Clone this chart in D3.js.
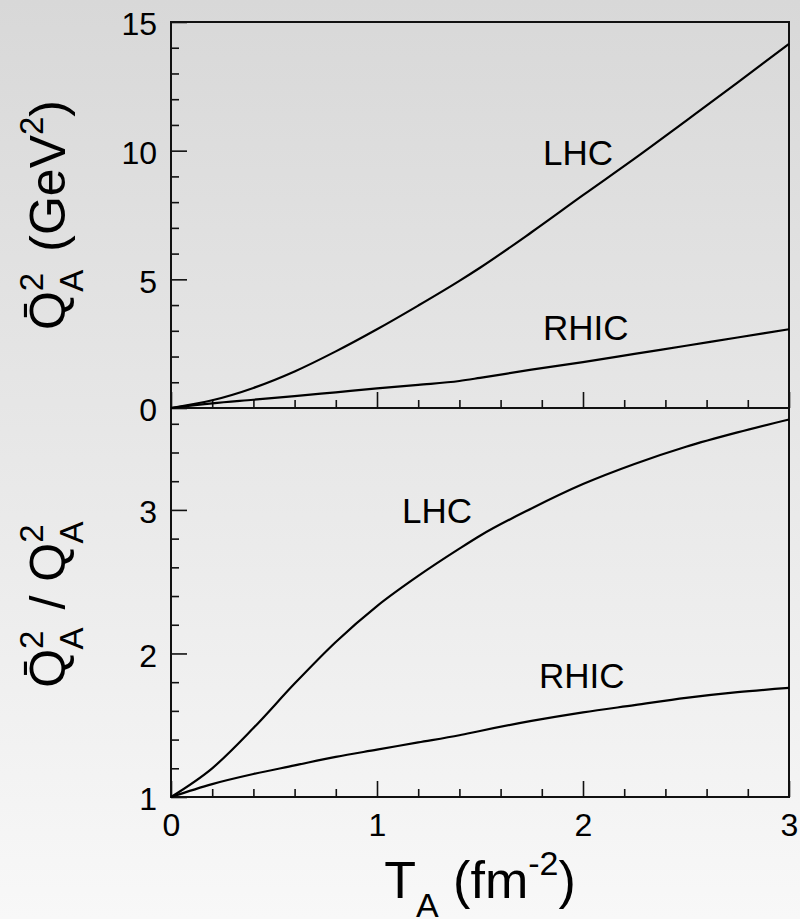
<!DOCTYPE html>
<html lang="en">
<head>
    <meta charset="utf-8" />
    <script src="https://d3js.org/d3.v7.min.js"></script>
    <title>Q2 vs TA</title>
    <style>
        body { margin: 0; }
        svg { display: block; }
        text { font-family: "Liberation Sans", Arial, sans-serif; fill: #000; }
    </style>
</head>
<body>
    <div id="container"></div>
    <script>
        // T_A values (fm^-2) where the curves were read
        const tA = [0, 0.2, 0.4, 0.6, 0.8, 1.0, 1.2, 1.4, 1.5, 1.75, 2.0, 2.25, 2.5, 2.75, 3.0];
        // upper panel: Qbar_A^2 (GeV^2)
        const upperLHC  = [0, 0.30, 0.78, 1.42, 2.20, 3.06, 3.98, 4.94, 5.45, 6.83, 8.27, 9.69, 11.16, 12.64, 14.15];
        const upperRHIC = [0, 0.18, 0.32, 0.46, 0.61, 0.76, 0.90, 1.05, 1.17, 1.49, 1.78, 2.10, 2.42, 2.74, 3.06];
        // lower panel: Qbar_A^2 / Q_A^2
        const lowerLHC  = [1, 1.20, 1.48, 1.79, 2.08, 2.33, 2.54, 2.73, 2.82, 3.01, 3.18, 3.32, 3.44, 3.54, 3.63];
        const lowerRHIC = [1, 1.09, 1.16, 1.22, 1.28, 1.33, 1.38, 1.43, 1.46, 1.53, 1.59, 1.64, 1.69, 1.73, 1.76];

        const xTicks = [0, 1, 2, 3];
        const upperYTicks = [0, 5, 10, 15];
        const lowerYTicks = [1, 2, 3];

        const W = 800, H = 919;
        const pLeft = 171, pRight = 789, pTop = 22, pMid = 408, pBottom = 797;

        const svg = d3.select("#container").append("svg").attr("width", W).attr("height", H);

        // background gradient
        const grad = svg.append("defs").append("linearGradient")
            .attr("id", "bg").attr("x1", 0).attr("y1", 0).attr("x2", 0).attr("y2", 1);
        grad.append("stop").attr("offset", "0%").attr("stop-color", "#d8d8d8");
        grad.append("stop").attr("offset", "100%").attr("stop-color", "#f8f8f8");
        svg.append("rect").attr("width", W).attr("height", H).attr("fill", "url(#bg)");

        const x = d3.scaleLinear().domain([0, 3]).range([pLeft, pRight]);
        const yUp = d3.scaleLinear().domain([0, 15]).range([pMid, pTop]);
        const yLo = d3.scaleLinear().domain([1, 3.71]).range([pBottom, pMid]);

        function minor(step, lo, hi, majors) {
            const out = [];
            for (let v = lo; v <= hi + 1e-9; v += step) {
                const r = Math.round(v * 100) / 100;
                if (!majors.some(m => Math.abs(m - r) < 1e-6)) out.push(r);
            }
            return out;
        }

        function drawAxes(yScale, yMajors, yMinors, yOff, labelX) {
            // y ticks, inward
            svg.append("g").attr("transform", "translate(" + pLeft + ",0)")
                .call(d3.axisLeft(yScale).tickValues(yMajors).tickSize(-16).tickPadding(14)
                    .tickFormat(d3.format("d")));
            svg.append("g").attr("transform", "translate(" + pLeft + ",0)")
                .call(d3.axisLeft(yScale).tickValues(yMinors).tickSize(-8).tickFormat(""));
            // x ticks at the bottom of the panel, pointing up
            svg.append("g").attr("transform", "translate(0," + yOff + ")")
                .call(d3.axisBottom(x).tickValues(xTicks).tickSize(-16).tickPadding(labelX ? 16 : 0)
                    .tickFormat(labelX ? d3.format("d") : ""));
            svg.append("g").attr("transform", "translate(0," + yOff + ")")
                .call(d3.axisBottom(x).tickValues(minor(0.2, 0, 3, xTicks)).tickSize(-8).tickFormat(""));
        }

        drawAxes(yUp, upperYTicks, minor(1, 0, 15, upperYTicks), pMid, false);
        drawAxes(yLo, lowerYTicks, minor(0.2, 1, 3.6, lowerYTicks), pBottom, true);

        svg.selectAll(".domain").remove();
        svg.selectAll(".tick line").attr("stroke", "#111").attr("stroke-width", 1.6);
        svg.selectAll(".tick text").attr("font-size", 32).attr("fill", "#000")
            .style("font-family", '"Liberation Sans", Arial, sans-serif');
        svg.selectAll(".tick text").filter(function() { return d3.select(this).attr("dy") === "0.32em"; })
            .attr("dy", "0.4em");

        // frames
        [[pTop, pMid], [pMid, pBottom]].forEach(([a, b]) => {
            svg.append("rect").attr("x", pLeft).attr("y", a).attr("width", pRight - pLeft).attr("height", b - a)
                .attr("fill", "none").attr("stroke", "#111").attr("stroke-width", 2);
        });

        // curves
        const curves = [
            [upperLHC, yUp], [upperRHIC, yUp], [lowerLHC, yLo], [lowerRHIC, yLo]
        ];
        curves.forEach(([vals, ys]) => {
            const line = d3.line().x((d, i) => x(tA[i])).y(d => ys(d)).curve(d3.curveMonotoneX);
            svg.append("path").attr("d", line(vals)).attr("fill", "none")
                .attr("stroke", "#000").attr("stroke-width", 2.2);
        });

        // curve labels
        const labels = [
            { t: "LHC", x: 543, y: 165 },
            { t: "RHIC", x: 543, y: 340 },
            { t: "LHC", x: 402, y: 523 },
            { t: "RHIC", x: 539, y: 688 }
        ];
        svg.selectAll(".lab").data(labels).enter().append("text")
            .attr("class", "lab").attr("x", d => d.x).attr("y", d => d.y)
            .attr("font-size", 35).text(d => d.t);

        // y titles (rotated)
        function qa(el, bar) {
            el.append("tspan").text(bar ? "Q\u0304" : "Q");
            el.append("tspan").attr("font-size", 33).attr("dy", -22).text("2");
            el.append("tspan").attr("font-size", 33).attr("dx", -19).attr("dy", 40).text("A");
            el.append("tspan").attr("font-size", 50).attr("dy", -18).text("\u200A");
        }
        const t1 = svg.append("text").attr("transform", "translate(65," + ((pTop + pMid) / 2) + ") rotate(-90)")
            .attr("text-anchor", "middle").attr("font-size", 50);
        qa(t1, true);
        t1.append("tspan").text(" (GeV");
        t1.append("tspan").attr("font-size", 33).attr("dy", -22).text("2");
        t1.append("tspan").attr("dy", 22).text(")");

        const t2 = svg.append("text").attr("transform", "translate(65," + ((pMid + pBottom) / 2) + ") rotate(-90)")
            .attr("text-anchor", "middle").attr("font-size", 50);
        qa(t2, true);
        t2.append("tspan").text(" / ");
        qa(t2, false);

        // x title
        const tx = svg.append("text").attr("x", (pLeft + pRight) / 2).attr("y", 898)
            .attr("text-anchor", "middle").attr("font-size", 52);
        tx.append("tspan").text("T");
        tx.append("tspan").attr("font-size", 34).attr("dy", 19).text("A");
        tx.append("tspan").attr("dy", -19).text(" (fm");
        tx.append("tspan").attr("font-size", 34).attr("dy", -23).text("-2");
        tx.append("tspan").attr("dy", 23).text(")");
    </script>
</body>
</html>
